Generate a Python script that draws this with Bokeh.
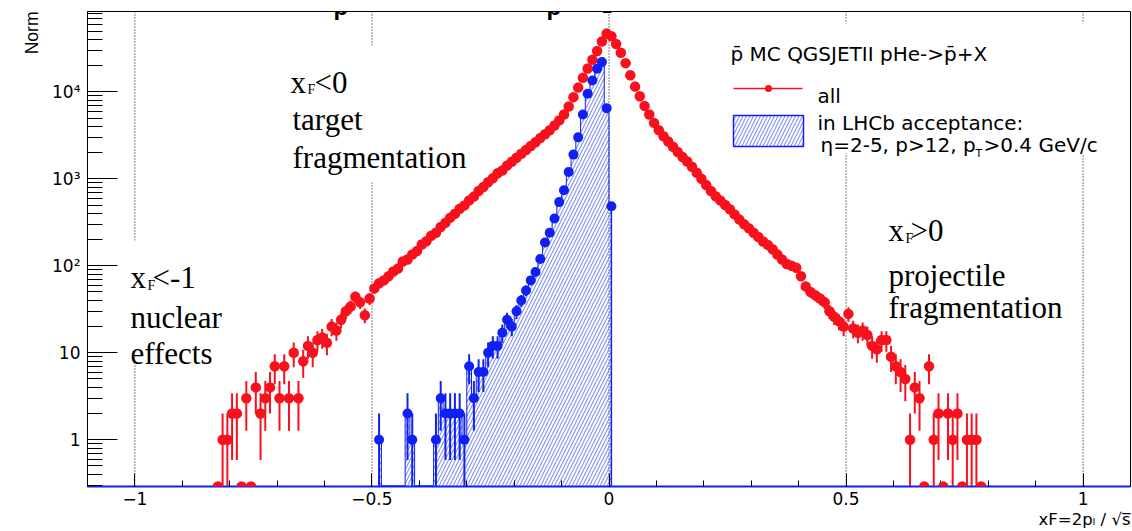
import numpy as np
from bokeh.plotting import figure
from bokeh.models import FixedTicker, Label, Title
from bokeh.core.properties import value
from bokeh.embed import file_html
from bokeh.resources import INLINE

# ---------------- data: antiproton xF spectra (counts per 0.01 bin) ----------------
BIN_W = 0.01

# all antiprotons, bins centred from -0.825 to 0.785
red_first = -0.825
red_counts = [
    0, 1, 1, 2, 2, 0, 3, 0, 4, 2,
    3, 4, 7, 3, 7, 3, 10, 3, 8, 12,
    10, 14, 15, 13, 20, 18, 24, 30, 34, 44,
    38, 27, 42, 55, 63, 68, 76, 86, 93, 112,
    118, 135, 148, 176, 192, 222, 240, 280, 312, 358,
    396, 452, 495, 565, 625, 725, 805, 915, 1015, 1160,
    1250, 1420, 1570, 1750, 1940, 2150, 2390, 2640, 2940, 3250,
    3620, 4100, 4700, 5500, 6800, 8700, 11200, 14500, 18600, 23400,
    29500, 38000, 46800,
    43600, 35500, 28200, 21400, 15500, 11500, 8900, 6900, 5500, 4400,
    3630, 3090, 2690, 2340, 2040, 1780, 1580, 1380, 1175, 1000,
    850, 725, 630, 562, 500, 447, 390, 340, 300, 270,
    240, 214, 190, 174, 155, 135, 118, 105, 100, 95,
    76, 58, 50, 46, 42, 38, 30, 26, 23, 20,
    28, 19, 17, 18, 16, 12, 11, 14, 14, 9,
    7, 6, 5, 1, 4, 3, 0, 7, 1, 2,
    0, 2, 1, 2, 0, 1, 1, 1, 0,
]

# antiprotons inside the LHCb acceptance, bins centred from -0.485 to 0.005
blue_first = -0.485
blue_counts = [
    1, 0, 0, 0, 0, 0, 2, 1, 0, 0,
    0, 0, 1, 3, 2, 2, 2, 2, 1, 7,
    3, 6, 6, 10, 12, 12, 17, 24, 20, 30,
    40, 52, 68, 85, 120, 185, 240, 350, 540, 740,
    1200, 1900, 3000, 5500, 9500, 13500, 18500, 22000, 6500, 484,
]

# region boundaries marked on the xF axis
guide_x = [-1.0, -0.5, 0.0, 0.5, 1.0]

x_major = [-1.0, -0.5, 0.0, 0.5, 1.0]
x_labels = {-1: "\u22121", -0.5: "\u22120.5", 0: "0", 0.5: "0.5", 1: "1"}
y_major = [1, 10, 100, 1000, 10000]
y_labels = {1: "1", 10: "10", 100: "10\u00b2", 1000: "10\u00b3", 10000: "10\u2074"}

RED = "#f8101c"
BLUE = "#1020f4"
HATCH = "#3d50f0"

# ---------------- plot geometry ----------------
X_LO, X_HI = -1.1, 1.1
Y_LO, Y_HI = 0.29, 84000.0
Y_BASE = Y_LO * 1.02                  # empty bins are drawn on the lower edge
FL, FR, FT, FB = 87, 1130, 11, 486   # frame edges in canvas pixels
LY0, LY1 = np.log10(Y_LO), np.log10(Y_HI)


def dx(px):
    return X_LO + (px - FL) * (X_HI - X_LO) / (FR - FL)


def dy(py):
    return 10 ** (LY0 + (FB - py) * (LY1 - LY0) / (FB - FT))


p = figure(width=1132, height=531, x_range=(X_LO, X_HI), y_range=(Y_LO, Y_HI),
           y_axis_type="log", output_backend="svg", toolbar_location=None,
           min_border_left=FL, min_border_right=1132 - FR,
           min_border_top=FT, min_border_bottom=531 - FB)
p.grid.visible = False
p.background_fill_color = "white"
p.border_fill_color = "white"
p.outline_line_color = "black"
p.outline_line_width = 1
p.outline_line_alpha = 1

x_minor = [round(-1.1 + 0.1 * i, 2) for i in range(23)]
y_minor = [m * 10.0 ** e for e in range(-1, 5) for m in range(2, 10)]
p.xaxis.ticker = FixedTicker(ticks=x_major, minor_ticks=x_minor)
p.yaxis.ticker = FixedTicker(ticks=y_major, minor_ticks=y_minor)
p.xaxis.major_label_overrides = x_labels
p.yaxis.major_label_overrides = y_labels
for ax in (p.xaxis[0], p.yaxis[0]):
    ax.axis_line_color = "black"
    ax.major_tick_line_color = "black"
    ax.minor_tick_line_color = "black"
    ax.major_tick_out = 0
    ax.minor_tick_out = 0
    ax.major_label_text_font = "DejaVu Sans"
    ax.major_label_text_font_size = "17px"
    ax.major_label_text_color = "black"
p.yaxis.major_tick_in = 30
p.yaxis.minor_tick_in = 15
p.yaxis.major_label_standoff = 7
p.xaxis.major_tick_in = 13
p.xaxis.minor_tick_in = 6
p.xaxis.major_label_standoff = 5
# the empty blue histogram runs along the bottom edge
p.xaxis.axis_line_color = BLUE
p.xaxis.axis_line_width = 2

# axis titles, placed at the far ends of the axes
p.add_layout(Title(text="xF=2p\u2097 / \u221as\u0305", align="right", standoff=0,
                   text_font="DejaVu Sans", text_font_size="16.5px",
                   text_font_style="normal", text_color="black"), "below")
p.add_layout(Title(text="Norm", align="right", standoff=16,
                   text_font="Liberation Sans", text_font_size="17.5px",
                   text_font_style="normal", text_color="black"), "left")

# dotted region boundaries
p.segment(x0=guide_x, y0=Y_LO, x1=guide_x, y1=Y_HI, line_color="black",
          line_width=1, line_dash="1 2")

# white panels behind the annotations and the legend
panels = [(284, 474, 45, 182), (124, 232, 240, 362), (722, 1127, 23, 153)]
p.quad(left=[dx(a) for a, b, c, d in panels], right=[dx(b) for a, b, c, d in panels],
       top=[dy(c) for a, b, c, d in panels], bottom=[dy(d) for a, b, c, d in panels],
       fill_color="white", line_color=None)


def hist_arrays(first, counts):
    n = np.asarray(counts, dtype=float)
    xs = first + BIN_W * np.arange(len(n))
    err = np.sqrt(n)
    nz = n > 0
    return xs, n, err, nz


MS = 10.5

# ---- all antiprotons ----
rx, rn, re, rnz = hist_arrays(red_first, red_counts)
p.segment(x0=rx[rnz], y0=np.maximum(rn[rnz] - re[rnz], Y_BASE), x1=rx[rnz], y1=rn[rnz] + re[rnz],
          line_color=RED, line_width=2)
p.segment(x0=rx[rnz] - BIN_W / 2, y0=rn[rnz], x1=rx[rnz] + BIN_W / 2, y1=rn[rnz],
          line_color=RED, line_width=2)
p.scatter(x=rx[rnz], y=rn[rnz], size=MS, color=RED, line_width=0)
# empty bins: half markers sitting on the lower edge
p.wedge(x=rx[~rnz], y=np.full((~rnz).sum(), Y_LO), radius=MS / 2, radius_units="screen",
        start_angle=0, end_angle=np.pi, color=RED, line_width=0, level="overlay")

# ---- LHCb acceptance ----
bx, bn, be, bnz = hist_arrays(blue_first, blue_counts)
b_fill = np.where(bnz, bn, Y_BASE)
p.varea_step(x=bx, y1=Y_BASE, y2=b_fill, step_mode="center", fill_color="white", fill_alpha=0,
             hatch_pattern="/", hatch_color=HATCH, hatch_scale=7, hatch_weight=0.9, hatch_alpha=0.85)
p.step(x=bx, y=b_fill, mode="center", line_color=BLUE, line_width=1)
p.segment(x0=[bx[-1]], y0=[Y_BASE], x1=[bx[-1]], y1=[b_fill[-1]], line_color=BLUE, line_width=1.5)
p.segment(x0=bx[bnz], y0=np.maximum(bn[bnz] - be[bnz], Y_BASE), x1=bx[bnz], y1=bn[bnz] + be[bnz],
          line_color=BLUE, line_width=2)
p.segment(x0=bx[bnz] - BIN_W / 2, y0=bn[bnz], x1=bx[bnz] + BIN_W / 2, y1=bn[bnz],
          line_color=BLUE, line_width=2)
p.scatter(x=bx[bnz], y=bn[bnz], size=MS - 0.5, color=BLUE, line_width=0)

# ---- legend ----
SANS = value("DejaVu Sans")
p.text(x=[dx(730)], y=[dy(53)], text=["p\u0304 MC QGSJETII pHe->p\u0304+X"], text_font=SANS,
       text_font_size="20px", text_color="black", text_baseline="alphabetic")
p.segment(x0=[dx(733)], y0=[dy(88)], x1=[dx(802)], y1=[dy(88)], line_color=RED, line_width=1.5)
p.scatter(x=[dx(768)], y=[dy(88)], size=7, color=RED, line_width=0)
p.text(x=[dx(817), dx(817), dx(820)], y=[dy(95), dy(122), dy(144)],
       text=["all", "in LHCb acceptance:", "\u03b7=2-5, p>12, p"], text_font=SANS,
       text_font_size="20px", text_color="black", text_baseline="alphabetic")
p.text(x=[dx(975)], y=[dy(153)], text=["T"], text_font=SANS, text_font_size="11px",
       text_color="black", text_baseline="alphabetic")
p.text(x=[dx(983)], y=[dy(144)], text=[">0.4 GeV/c"], text_font=SANS, text_font_size="20px",
       text_color="black", text_baseline="alphabetic")
p.quad(left=[dx(733)], right=[dx(803)], top=[dy(115)], bottom=[dy(146)], fill_color="white",
       line_color=BLUE, line_width=1.5, hatch_pattern="/", hatch_color=HATCH, hatch_scale=7,
       hatch_weight=0.9, hatch_alpha=0.85)

# ---- region annotations ----
SERIF = value("Liberation Serif")
big = [("x", 290, 82), ("<0", 314, 82), ("target", 292, 119), ("fragmentation", 292, 157),
       ("x", 130, 277), ("<-1", 152, 277), ("nuclear", 130, 317), ("effects", 130, 353),
       ("x", 888, 230), (">0", 910, 230), ("projectile", 888, 275), ("fragmentation", 888, 307)]
p.text(x=[dx(a) for t, a, b in big], y=[dy(b) for t, a, b in big], text=[t for t, a, b in big],
       text_font=SERIF, text_font_size="31px", text_color="black", text_baseline="alphabetic")
subs = [(307, 89), (147, 285), (905, 238)]
p.text(x=[dx(a) for a, b in subs], y=[dy(b) for a, b in subs], text=["F"] * 3,
       text_font=SERIF, text_font_size="14px", text_color="black", text_baseline="alphabetic")

# ---- top title (runs off the upper edge) ----
for txt, px, size in [("p", 333, "24px"), ("L", 432, "17px"), ("p", 546, "24px"), ("2", 602, "17px")]:
    p.add_layout(Label(x=px - FL, y=FB - 6, x_units="screen", y_units="screen", text=txt,
                       text_align="left", text_baseline="alphabetic", text_font="Liberation Sans",
                       text_font_style="bold", text_font_size=size, text_color="black",
                       level="overlay"))

open("out.html", "w").write(file_html(p, INLINE))
